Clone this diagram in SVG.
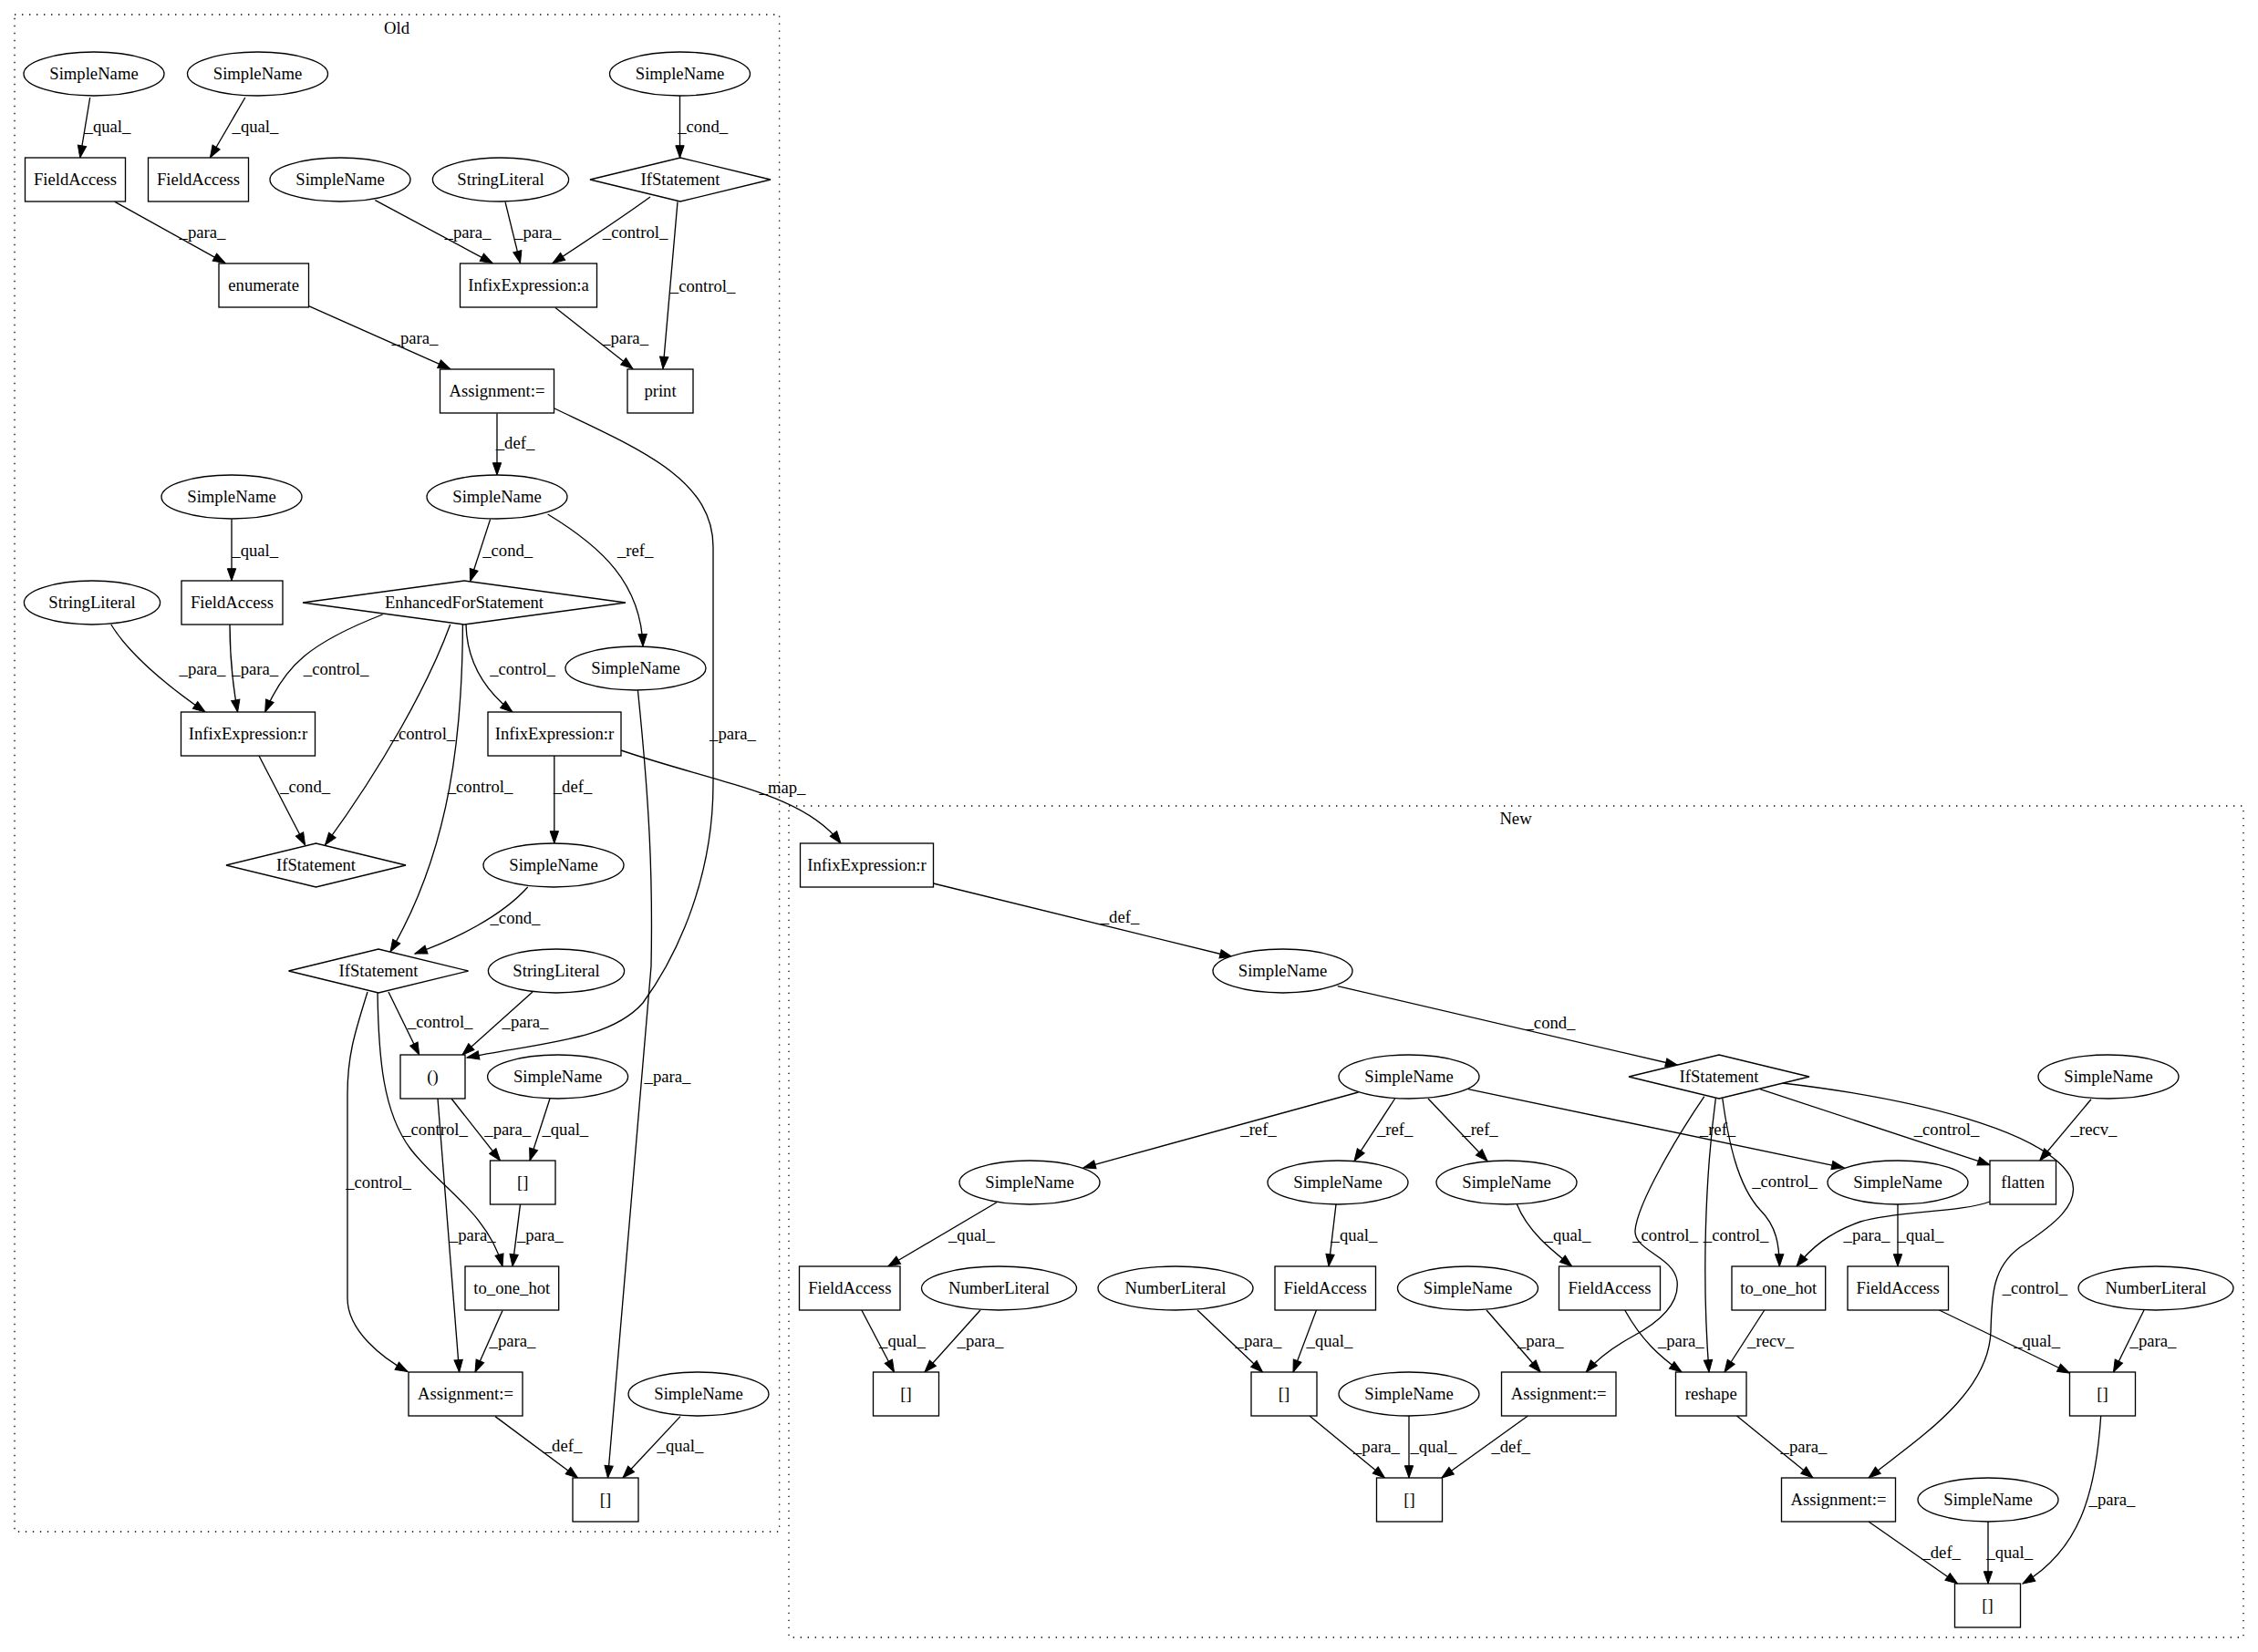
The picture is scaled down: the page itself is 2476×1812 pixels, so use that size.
<svg xmlns="http://www.w3.org/2000/svg" width="2476" height="1812" viewBox="0 0 2476 1812">
<defs>
<marker id="ah" markerUnits="userSpaceOnUse" markerWidth="14" markerHeight="10" refX="13.3" refY="4.67" orient="auto" overflow="visible">
<path d="M0,0 L13.3,4.67 L0,9.33 Z" fill="#000" stroke="#000" stroke-width="1"/>
</marker>
<style>
.s{fill:#fff;stroke:#000;stroke-width:1.33}
.c{fill:none;stroke:#000;stroke-width:1.33;stroke-dasharray:1.33,6.67}
text{font-family:"Liberation Serif","Times New Roman",serif;font-size:18.67px;text-anchor:middle;fill:#000}
.e path{fill:none;stroke:#000;stroke-width:1.33;marker-end:url(#ah)}
</style>
</defs>
<rect width="2476" height="1812" fill="#fff"/>
<g id="cluster_old"><rect class="c" x="16" y="16" width="838.6" height="1664"/><text x="435" y="37">Old</text></g>
<g id="cluster_new"><rect class="c" x="865" y="884" width="1595" height="912"/><text x="1662" y="904">New</text></g>

<g id="edges" class="e">
<path d="M98.7,107 L87.8,173"/>
<path d="M268.8,107 L230.4,173"/>
<path d="M745.5,105 L745.5,173"/>
<path d="M126,221.4 L247,288.6"/>
<path d="M411.4,219.6 L540,288.6"/>
<path d="M554,221.4 L570.5,288.6"/>
<path d="M713,216 Q680,240 606,288.6"/>
<path d="M743,221.4 L727,404.6"/>
<path d="M338.5,335.7 L493.7,404.6"/>
<path d="M609,337.5 L694,404.6"/>
<path d="M545,453.6 L545,521"/>
<path d="M608,448 C700,492 782,525 782,600 L782,860 C782,960 745,1045 705,1100 C670,1140 600,1143 512,1160"/>
<path d="M537.6,569.6 L515.6,637.5"/>
<path d="M600.6,564 C660,600 703,640 705,709"/>
<path d="M254,569.6 L254,637"/>
<path d="M121.8,685 C140,715 180,750 225,781"/>
<path d="M252,685 C252,720 255,750 260.6,781"/>
<path d="M419.6,674 C340,705 312,730 290.7,781"/>
<path d="M493.7,685 C470,750 420,840 356.5,926.8"/>
<path d="M284,829 L334.6,926.8"/>
<path d="M511,685 C512,730 535,760 562,781"/>
<path d="M507.4,685 C507,800 495,930 428,1044"/>
<path d="M607.8,829 L607.8,925"/>
<path d="M578.7,973 C550,1005 500,1030 455,1046"/>
<path d="M699.4,757 C712,880 716,960 714,1060 L666.5,1621"/>
<path d="M426,1088 L459.7,1157"/>
<path d="M584,1088 L507,1157"/>
<path d="M414,1088 C415,1160 420,1220 450,1260 C480,1300 535,1330 551,1389"/>
<path d="M403,1088 C390,1130 381,1156 381,1200 L381,1424 C381,1460 420,1490 447,1504.5"/>
<path d="M495,1205 L548.5,1273"/>
<path d="M603,1205 L581,1273"/>
<path d="M480,1205 C488,1300 496,1400 503.6,1505"/>
<path d="M570.5,1321 L562,1389"/>
<path d="M551,1437.5 L521,1505"/>
<path d="M543,1553.6 L633.6,1621"/>
<path d="M746,1553.6 L683,1621"/>
<path d="M681,823 C790,860 880,870 922,925"/>
<path d="M1023.5,969 L1351,1049.5"/>
<path d="M1466.8,1081.6 L1839.7,1168.5"/>
<path d="M1489.5,1198 L1188,1280.8"/>
<path d="M1529.6,1205 L1485,1273.5"/>
<path d="M1566,1205 L1631,1273.5"/>
<path d="M1609.8,1194.6 L2021.9,1280.8"/>
<path d="M1868.8,1202.7 C1840,1245 1795,1320 1793,1350 C1792,1372 1835,1378 1839,1405 C1842,1430 1820,1450 1790,1466 C1770,1477 1752,1490 1739.3,1505"/>
<path d="M1881.3,1205 C1870,1290 1866,1400 1874,1505"/>
<path d="M1888.8,1205 C1895,1250 1905,1300 1930,1327 C1948,1345 1951,1365 1951.3,1389"/>
<path d="M1930,1194.6 L2182,1277.7"/>
<path d="M1954.6,1188 C2100,1205 2240,1240 2270,1290 C2285,1320 2250,1345 2215,1368 C2185,1390 2184,1420 2183,1460 C2181,1530 2100,1580 2049,1621"/>
<path d="M2293,1205.8 L2236.7,1273"/>
<path d="M2182,1318 C2150,1330 2080,1328 2040,1340 C2005,1352 1985,1370 1970,1389"/>
<path d="M2081,1321 L2081,1389"/>
<path d="M1093,1318.8 L973.8,1389"/>
<path d="M1465,1321 L1457,1389"/>
<path d="M1663.4,1321 C1675,1350 1700,1370 1723.7,1389"/>
<path d="M944.8,1437 L980.5,1505"/>
<path d="M1075,1437 L1014,1505"/>
<path d="M1313,1437 L1384.5,1505"/>
<path d="M1443.5,1437 L1418,1505"/>
<path d="M1630,1437 L1689.3,1505"/>
<path d="M1781.7,1437 C1800,1470 1820,1488 1844,1505"/>
<path d="M1934.8,1437 L1891,1505"/>
<path d="M2126.4,1437 L2269.5,1506"/>
<path d="M2351,1437 L2317.5,1505"/>
<path d="M1436,1553 L1518.5,1621"/>
<path d="M1545,1553 L1545,1621"/>
<path d="M1675.4,1553 L1580.8,1621"/>
<path d="M1904.5,1553 L1988,1621"/>
<path d="M2049,1669 L2146.5,1737"/>
<path d="M2180,1669 L2180,1737"/>
<path d="M2303.7,1553 C2298,1640 2280,1700 2218,1737"/>
</g>

<g id="edge-labels">
<text x="118" y="145">_qual_</text>
<text x="280" y="145">_qual_</text>
<text x="770.6" y="145">_cond_</text>
<text x="222" y="261">_para_</text>
<text x="513" y="261">_para_</text>
<text x="589.6" y="261">_para_</text>
<text x="696.6" y="261">_control_</text>
<text x="770.6" y="319.6">_control_</text>
<text x="455" y="377.4">_para_</text>
<text x="685.6" y="377.4">_para_</text>
<text x="565" y="491.7">_def_</text>
<text x="279.7" y="609.6">_qual_</text>
<text x="556.7" y="609.6">_cond_</text>
<text x="696.6" y="609.6">_ref_</text>
<text x="222" y="740">_para_</text>
<text x="279.7" y="740">_para_</text>
<text x="368.6" y="740">_control_</text>
<text x="573" y="740">_control_</text>
<text x="463.4" y="811.4">_control_</text>
<text x="803.5" y="811.4">_para_</text>
<text x="334.6" y="868.5">_cond_</text>
<text x="526.5" y="868.5">_control_</text>
<text x="628" y="868.5">_def_</text>
<text x="858" y="870">_map_</text>
<text x="565" y="1013">_cond_</text>
<text x="482.7" y="1127.4">_control_</text>
<text x="576" y="1127.4">_para_</text>
<text x="732" y="1186.8">_para_</text>
<text x="477" y="1244.8">_control_</text>
<text x="556.7" y="1244.8">_para_</text>
<text x="619.8" y="1244.8">_qual_</text>
<text x="415" y="1302.9">_control_</text>
<text x="518.3" y="1361">_para_</text>
<text x="592.3" y="1361">_para_</text>
<text x="562" y="1477">_para_</text>
<text x="617" y="1592">_def_</text>
<text x="746" y="1592">_qual_</text>
<text x="1228" y="1012">_def_</text>
<text x="1700" y="1128">_cond_</text>
<text x="1380" y="1245.3">_ref_</text>
<text x="1529.6" y="1245.3">_ref_</text>
<text x="1623" y="1245.3">_ref_</text>
<text x="1883.5" y="1245.3">_ref_</text>
<text x="1826" y="1360.5">_control_</text>
<text x="1903.6" y="1360.5">_control_</text>
<text x="1957" y="1302.4">_control_</text>
<text x="2134.5" y="1245.3">_control_</text>
<text x="2231.4" y="1418.5">_control_</text>
<text x="2296" y="1245.3">_recv_</text>
<text x="2047" y="1361.4">_para_</text>
<text x="2106" y="1361.4">_qual_</text>
<text x="1065.4" y="1361.4">_qual_</text>
<text x="1485" y="1361.4">_qual_</text>
<text x="1719" y="1361.4">_qual_</text>
<text x="989.5" y="1476.5">_qual_</text>
<text x="1075" y="1476.5">_para_</text>
<text x="1380" y="1476.5">_para_</text>
<text x="1458" y="1476.5">_qual_</text>
<text x="1689.3" y="1476.5">_para_</text>
<text x="1843.3" y="1476.5">_para_</text>
<text x="1941.5" y="1476.5">_recv_</text>
<text x="2233.6" y="1476.5">_qual_</text>
<text x="2361" y="1476.5">_para_</text>
<text x="1509.4" y="1592.6">_para_</text>
<text x="1571.9" y="1592.6">_qual_</text>
<text x="1656.7" y="1592.6">_def_</text>
<text x="1978" y="1592.6">_para_</text>
<text x="2128.7" y="1708.7">_def_</text>
<text x="2203.7" y="1708.7">_qual_</text>
<text x="2316" y="1650.6">_para_</text>
</g>

<g id="o_sn_a"><ellipse class="s" cx="103" cy="81" rx="77" ry="24"/><text x="103" y="87">SimpleName</text></g>
<g id="o_sn_b"><ellipse class="s" cx="282.5" cy="81" rx="77" ry="24"/><text x="282.5" y="87">SimpleName</text></g>
<g id="o_sn_c"><ellipse class="s" cx="745.5" cy="81" rx="77" ry="24"/><text x="745.5" y="87">SimpleName</text></g>
<g id="o_fa1"><rect class="s" x="27.5" y="173" width="110" height="48"/><text x="82.5" y="203">FieldAccess</text></g>
<g id="o_fa2"><rect class="s" x="162.5" y="173" width="110" height="48"/><text x="217.5" y="203">FieldAccess</text></g>
<g id="o_sn_d"><ellipse class="s" cx="373" cy="197" rx="77" ry="24"/><text x="373" y="203">SimpleName</text></g>
<g id="o_sl1"><ellipse class="s" cx="549" cy="197" rx="74.6" ry="24"/><text x="549" y="203">StringLiteral</text></g>
<g id="o_if1"><polygon class="s" points="647,197 746,173 845,197 746,221"/><text x="746" y="203">IfStatement</text></g>
<g id="o_enum"><rect class="s" x="240" y="289" width="98.5" height="48"/><text x="289.2" y="319">enumerate</text></g>
<g id="o_infa"><rect class="s" x="504.5" y="289" width="150" height="48"/><text x="579.5" y="319">InfixExpression:a</text></g>
<g id="o_asg1"><rect class="s" x="482.5" y="405" width="125" height="48"/><text x="545" y="435">Assignment:=</text></g>
<g id="o_print"><rect class="s" x="688" y="405" width="72" height="48"/><text x="724" y="435">print</text></g>
<g id="o_sn_e"><ellipse class="s" cx="545" cy="545" rx="77" ry="24"/><text x="545" y="551">SimpleName</text></g>
<g id="o_sn_f"><ellipse class="s" cx="254" cy="545" rx="77" ry="24"/><text x="254" y="551">SimpleName</text></g>
<g id="o_fa3"><rect class="s" x="199" y="637" width="111" height="48"/><text x="254.5" y="667">FieldAccess</text></g>
<g id="o_sl2"><ellipse class="s" cx="101" cy="661" rx="74.6" ry="24"/><text x="101" y="667">StringLiteral</text></g>
<g id="o_efor"><polygon class="s" points="332,661 509,637 686,661 509,685"/><text x="509" y="667">EnhancedForStatement</text></g>
<g id="o_sn_g"><ellipse class="s" cx="697" cy="733" rx="77" ry="24"/><text x="697" y="739">SimpleName</text></g>
<g id="o_infr1"><rect class="s" x="198.5" y="781" width="147" height="48"/><text x="272" y="811">InfixExpression:r</text></g>
<g id="o_infr2"><rect class="s" x="535" y="781" width="146" height="48"/><text x="608" y="811">InfixExpression:r</text></g>
<g id="o_if2"><polygon class="s" points="248,949 346.5,925 445,949 346.5,973"/><text x="346.5" y="955">IfStatement</text></g>
<g id="o_sn_h"><ellipse class="s" cx="607" cy="949" rx="77" ry="24"/><text x="607" y="955">SimpleName</text></g>
<g id="o_if3"><polygon class="s" points="316.5,1065 415,1041 513.5,1065 415,1089"/><text x="415" y="1071">IfStatement</text></g>
<g id="o_sl3"><ellipse class="s" cx="610" cy="1065" rx="74.6" ry="24"/><text x="610" y="1071">StringLiteral</text></g>
<g id="o_paren"><rect class="s" x="439" y="1157" width="71" height="48"/><text x="474.5" y="1187">()</text></g>
<g id="o_sn_i"><ellipse class="s" cx="611.6" cy="1181" rx="77" ry="24"/><text x="611.6" y="1187">SimpleName</text></g>
<g id="o_br1"><rect class="s" x="537.5" y="1273" width="71.5" height="48"/><text x="573.2" y="1303">[]</text></g>
<g id="o_toh"><rect class="s" x="510" y="1389" width="102.7" height="48"/><text x="561.3" y="1419">to_one_hot</text></g>
<g id="o_asg2"><rect class="s" x="448" y="1505" width="125" height="48"/><text x="510.5" y="1535">Assignment:=</text></g>
<g id="o_sn_j"><ellipse class="s" cx="766" cy="1529" rx="77" ry="24"/><text x="766" y="1535">SimpleName</text></g>
<g id="o_br2"><rect class="s" x="628" y="1621" width="72" height="48"/><text x="664" y="1651">[]</text></g>

<g id="n_infr"><rect class="s" x="877.5" y="925" width="146" height="48"/><text x="950.5" y="955">InfixExpression:r</text></g>
<g id="n_sn_k"><ellipse class="s" cx="1406.5" cy="1065" rx="76.5" ry="24"/><text x="1406.5" y="1071">SimpleName</text></g>
<g id="n_sn_l"><ellipse class="s" cx="1545" cy="1181" rx="77" ry="24"/><text x="1545" y="1187">SimpleName</text></g>
<g id="n_if"><polygon class="s" points="1786,1181 1885,1157 1984,1181 1885,1205"/><text x="1885" y="1187">IfStatement</text></g>
<g id="n_sn_p"><ellipse class="s" cx="2312" cy="1181" rx="77" ry="24"/><text x="2312" y="1187">SimpleName</text></g>
<g id="n_sn_m"><ellipse class="s" cx="1129" cy="1297" rx="77" ry="24"/><text x="1129" y="1303">SimpleName</text></g>
<g id="n_sn_n"><ellipse class="s" cx="1467" cy="1297" rx="77" ry="24"/><text x="1467" y="1303">SimpleName</text></g>
<g id="n_sn_o"><ellipse class="s" cx="1652" cy="1297" rx="77" ry="24"/><text x="1652" y="1303">SimpleName</text></g>
<g id="n_sn_q"><ellipse class="s" cx="2081" cy="1297" rx="77" ry="24"/><text x="2081" y="1303">SimpleName</text></g>
<g id="n_flatten"><rect class="s" x="2182" y="1273" width="72.5" height="48"/><text x="2218.2" y="1303">flatten</text></g>
<g id="n_fa1"><rect class="s" x="876.5" y="1389" width="110.5" height="48"/><text x="931.8" y="1419">FieldAccess</text></g>
<g id="n_nl1"><ellipse class="s" cx="1095.5" cy="1413" rx="85" ry="24"/><text x="1095.5" y="1419">NumberLiteral</text></g>
<g id="n_nl2"><ellipse class="s" cx="1289" cy="1413" rx="85" ry="24"/><text x="1289" y="1419">NumberLiteral</text></g>
<g id="n_fa2"><rect class="s" x="1398" y="1389" width="110.5" height="48"/><text x="1453.2" y="1419">FieldAccess</text></g>
<g id="n_sn_r"><ellipse class="s" cx="1609.5" cy="1413" rx="77" ry="24"/><text x="1609.5" y="1419">SimpleName</text></g>
<g id="n_fa3"><rect class="s" x="1709.5" y="1389" width="111" height="48"/><text x="1765" y="1419">FieldAccess</text></g>
<g id="n_toh"><rect class="s" x="1899" y="1389" width="102.7" height="48"/><text x="1950.3" y="1419">to_one_hot</text></g>
<g id="n_fa4"><rect class="s" x="2026" y="1389" width="110.5" height="48"/><text x="2081.2" y="1419">FieldAccess</text></g>
<g id="n_nl3"><ellipse class="s" cx="2364" cy="1413" rx="85" ry="24"/><text x="2364" y="1419">NumberLiteral</text></g>
<g id="n_br1"><rect class="s" x="957.5" y="1505" width="72" height="48"/><text x="993.5" y="1535">[]</text></g>
<g id="n_br2"><rect class="s" x="1372" y="1505" width="72" height="48"/><text x="1408" y="1535">[]</text></g>
<g id="n_sn_s"><ellipse class="s" cx="1545" cy="1529" rx="77" ry="24"/><text x="1545" y="1535">SimpleName</text></g>
<g id="n_asg1"><rect class="s" x="1646.5" y="1505" width="125.5" height="48"/><text x="1709.2" y="1535">Assignment:=</text></g>
<g id="n_reshape"><rect class="s" x="1837.5" y="1505" width="77.5" height="48"/><text x="1876.2" y="1535">reshape</text></g>
<g id="n_br4"><rect class="s" x="2269.5" y="1505" width="72" height="48"/><text x="2305.5" y="1535">[]</text></g>
<g id="n_br3"><rect class="s" x="1509.5" y="1621" width="72" height="48"/><text x="1545.5" y="1651">[]</text></g>
<g id="n_asg2"><rect class="s" x="1953.5" y="1621" width="125" height="48"/><text x="2016" y="1651">Assignment:=</text></g>
<g id="n_sn_t"><ellipse class="s" cx="2180" cy="1645" rx="77" ry="24"/><text x="2180" y="1651">SimpleName</text></g>
<g id="n_br5"><rect class="s" x="2143.5" y="1737" width="72" height="48"/><text x="2179.5" y="1767">[]</text></g>
</svg>
